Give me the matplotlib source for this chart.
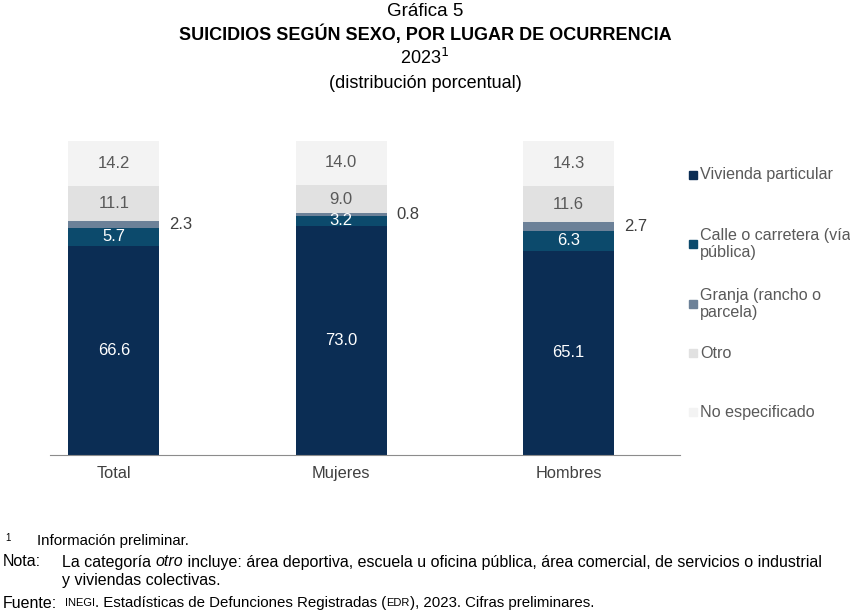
import matplotlib.pyplot as plt
from matplotlib.patches import Rectangle

plt.rcParams['font.family'] = ['Liberation Sans', 'DejaVu Sans']

categorias = ['Total', 'Mujeres', 'Hombres']
series = ['Vivienda particular', 'Calle o carretera (vía\npública)',
          'Granja (rancho o\nparcela)', 'Otro', 'No especificado']
vivienda = [66.6, 73.0, 65.1]
calle = [5.7, 3.2, 6.3]
granja = [2.3, 0.8, 2.7]
otro = [11.1, 9.0, 11.6]
no_esp = [14.2, 14.0, 14.3]

valores = [vivienda, calle, granja, otro, no_esp]
colores = ['#0b2d54', '#0c4a6c', '#6c8198', '#e1e1e1', '#f3f3f3']
color_txt = ['white', 'white', '#595959', '#595959', '#595959']

fig = plt.figure(figsize=(8.5, 6.11), dpi=100)
ax = fig.add_axes([0.059, 0.2553, 0.741, 0.514])

x = range(len(categorias))
abajo = [0, 0, 0]
for i, vals in enumerate(valores):
    ax.bar(x, vals, bottom=abajo, width=0.4, color=colores[i], linewidth=0)
    for j, v in enumerate(vals):
        yc = abajo[j] + v / 2
        if i == 2:
            ax.text(j + 0.295, yc, f'{v:.1f}', ha='center', va='center',
                    fontsize=12, color='#404040')
        else:
            ax.text(j, yc, f'{v:.1f}', ha='center', va='center',
                    fontsize=12, color=color_txt[i])
    abajo = [a + v for a, v in zip(abajo, vals)]

ax.set_xlim(-0.28, 2.49)
ax.set_ylim(0, 100)
ax.set_xticks(list(x))
ax.set_xticklabels(categorias, fontsize=11.8, color='#404040')
ax.tick_params(axis='x', length=0, pad=8)
ax.set_yticks([])
for s in ['top', 'right', 'left']:
    ax.spines[s].set_visible(False)
ax.spines['bottom'].set_color('#8c8c8c')

# leyenda manual
ley_y = [175, 244, 304, 353, 412]
for c, lab, yp in zip(colores, series, ley_y):
    fig.patches.append(Rectangle((689 / 850, 1 - (yp + 4) / 611), 8 / 850, 8 / 611,
                                 transform=fig.transFigure, color=c))
    fig.text(700 / 850, 1 - yp / 611, lab, fontsize=11.6, color='#595959',
             va='center', ha='left', linespacing=1.15)

# titulos
fig.text(0.5, 1 - 12 / 611, 'Gráfica 5', ha='center', va='center', fontsize=13.5)
fig.text(0.5, 1 - 34 / 611, 'SUICIDIOS SEGÚN SEXO, POR LUGAR DE OCURRENCIA',
         ha='center', va='center', fontsize=13, fontweight='bold')
fig.text(0.5, 1 - 58 / 611, '2023$^1$', ha='center', va='center', fontsize=13)
fig.text(0.5, 1 - 83 / 611, '(distribución porcentual)', ha='center', va='center',
         fontsize=13)

# notas al pie
nf = ['Liberation Sans Narrow', 'Liberation Sans', 'DejaVu Sans']
fs = 11.5
fig.canvas.draw()
rend = fig.canvas.get_renderer()


def tramo(xp, yp, partes):
    xx = xp
    for txt, kw in partes:
        t = fig.text(xx / 850, 1 - yp / 611, txt, va='center', ha='left',
                     family=nf, **kw)
        bb = t.get_window_extent(renderer=rend)
        xx = bb.x1


fig.text(5 / 850, 1 - 538 / 611, '1', fontsize=7, va='center', family=nf)
tramo(37, 541, [('Información preliminar.', dict(fontsize=10.8))])
tramo(3, 562, [('Nota:', dict(fontsize=fs))])
tramo(62, 562, [('La categoría ', dict(fontsize=fs)),
                ('otro', dict(fontsize=fs, style='italic')),
                (' incluye: área deportiva, escuela u oficina pública, área comercial, '
                 'de servicios o industrial', dict(fontsize=fs))])
tramo(62, 581, [('y viviendas colectivas.', dict(fontsize=fs))])
tramo(3, 603, [('Fuente:', dict(fontsize=fs))])
tramo(65, 603, [('INEGI', dict(fontsize=8)),
                ('. Estadísticas de Defunciones Registradas (', dict(fontsize=10.8)),
                ('EDR', dict(fontsize=8)),
                ('), 2023. Cifras preliminares.', dict(fontsize=10.8))])

fig.savefig('out.png', dpi=100)
